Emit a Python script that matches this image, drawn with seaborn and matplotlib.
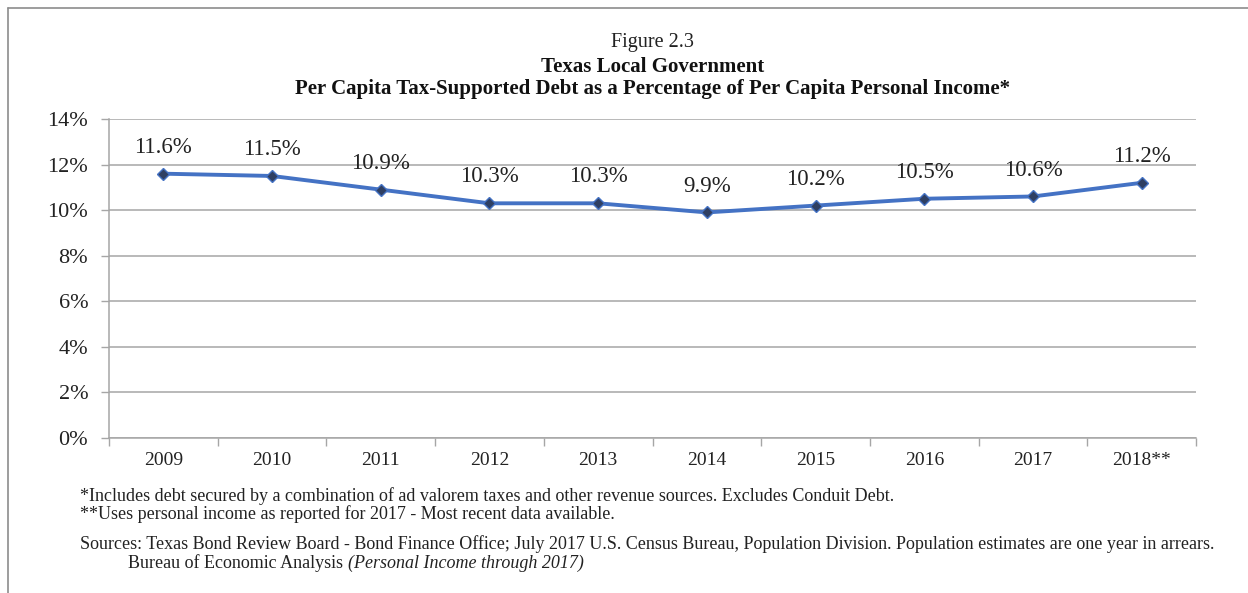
import matplotlib
matplotlib.use("Agg")
import matplotlib.pyplot as plt
from matplotlib.lines import Line2D
from matplotlib.ticker import FixedLocator, FuncFormatter
import numpy as np
import pandas as pd
import seaborn as sns

# Fiscal years and debt-to-income ratios (percent)
years = ["2009", "2010", "2011", "2012", "2013", "2014", "2015", "2016", "2017", "2018**"]
ratio_pct = [11.6, 11.5, 10.9, 10.3, 10.3, 9.9, 10.2, 10.5, 10.6, 11.2]
y_ticks = [0, 2, 4, 6, 8, 10, 12, 14]

title_lines = [
    "Figure 2.3",
    "Texas Local Government",
    "Per Capita Tax-Supported Debt as a Percentage of Per Capita Personal Income*",
]
notes = [
    "*Includes debt secured by a combination of ad valorem taxes and other revenue sources. Excludes Conduit Debt.",
    "**Uses personal income as reported for 2017 - Most recent data available.",
]
sources_1 = ("Sources: Texas Bond Review Board - Bond Finance Office; July 2017 U.S. Census Bureau, "
             "Population Division. Population estimates are one year in arrears.")
sources_2a = "Bureau of Economic Analysis "
sources_2b = "(Personal Income through 2017)"

df = pd.DataFrame({"year": years, "pos": np.arange(len(years)), "ratio": ratio_pct})

sns.set_theme(style="white")
plt.rcParams["font.family"] = ["Liberation Serif", "DejaVu Serif"]

W, H = 1248, 593
fig = plt.figure(figsize=(W / 100, H / 100), dpi=100)
ax = fig.add_axes([109 / W, 1 - 438 / H, (1196 - 109) / W, (438 - 119) / H])

line_blue = "#4472C4"
grid_grey = "#A6A6A6"
text_col = "#222222"

sns.lineplot(data=df, x="pos", y="ratio", ax=ax, color=line_blue, linewidth=2.8,
             marker="D", markersize=6.5, markerfacecolor="#2E3F63",
             markeredgecolor=line_blue, markeredgewidth=1.0, zorder=3)

for x, v in zip(df["pos"], df["ratio"]):
    ax.annotate(f"{v:.1f}%", (x, v), xytext=(0, 19), textcoords="offset points",
                ha="center", va="center", fontsize=16.5, color=text_col)

ax.set_xlim(-0.5, len(years) - 0.5)
ax.set_ylim(0, 14)
ax.yaxis.set_major_locator(FixedLocator(y_ticks))
ax.yaxis.set_major_formatter(FuncFormatter(lambda v, _: f"{v:.0f}%"))
ax.set_xticks(df["pos"])
ax.set_xticklabels(years)
ax.xaxis.set_minor_locator(FixedLocator(np.arange(-0.5, len(years), 1.0)))
ax.tick_params(axis="x", which="major", length=0, pad=10, labelsize=14, labelcolor=text_col)
ax.tick_params(axis="x", which="minor", length=6, width=1, color=grid_grey, direction="out", bottom=True)
ax.tick_params(axis="y", which="major", length=6, width=1, color=grid_grey, direction="out",
               left=True, pad=9, labelsize=16, labelcolor=text_col)
ax.set_xlabel("")
ax.set_ylabel("")

ax.grid(axis="y", color=grid_grey, linewidth=1.1)
ax.set_axisbelow(True)
for side in ("top", "right"):
    ax.spines[side].set_visible(False)
for side in ("left", "bottom"):
    ax.spines[side].set_color(grid_grey)
    ax.spines[side].set_linewidth(1.1)

# Titles
cx = (109 + 1196) / 2 / W
fig.text(cx, 1 - 43 / H, title_lines[0], ha="center", va="center", fontsize=14.5, color=text_col)
fig.text(cx, 1 - 67 / H, title_lines[1], ha="center", va="center", fontsize=15,
         fontweight="bold", color="#111111")
fig.text(cx, 1 - 89 / H, title_lines[2], ha="center", va="center", fontsize=15,
         fontweight="bold", color="#111111")

# Footnotes and sources
fs = 13
fig.text(80 / W, 1 - 496 / H, notes[0], ha="left", va="center", fontsize=fs, color=text_col)
fig.text(80 / W, 1 - 514 / H, notes[1], ha="left", va="center", fontsize=fs, color=text_col)
fig.text(80 / W, 1 - 544 / H, sources_1, ha="left", va="center", fontsize=fs, color=text_col)
t = fig.text(128 / W, 1 - 563 / H, sources_2a, ha="left", va="center", fontsize=fs, color=text_col)
fig.canvas.draw()
bb = t.get_window_extent()
fig.text(bb.x1 / W, 1 - 563 / H, sources_2b, ha="left", va="center", fontsize=fs,
         style="italic", color=text_col)

# Page frame around the chart
frame_grey = "#8C8C8C"
fig.add_artist(Line2D([8 / W, 1.0], [1 - 8 / H, 1 - 8 / H], transform=fig.transFigure,
                      color=frame_grey, linewidth=1.2))
fig.add_artist(Line2D([8 / W, 8 / W], [0.0, 1 - 8 / H], transform=fig.transFigure,
                      color=frame_grey, linewidth=1.2))

fig.savefig("out.png", dpi=100, facecolor="white")
